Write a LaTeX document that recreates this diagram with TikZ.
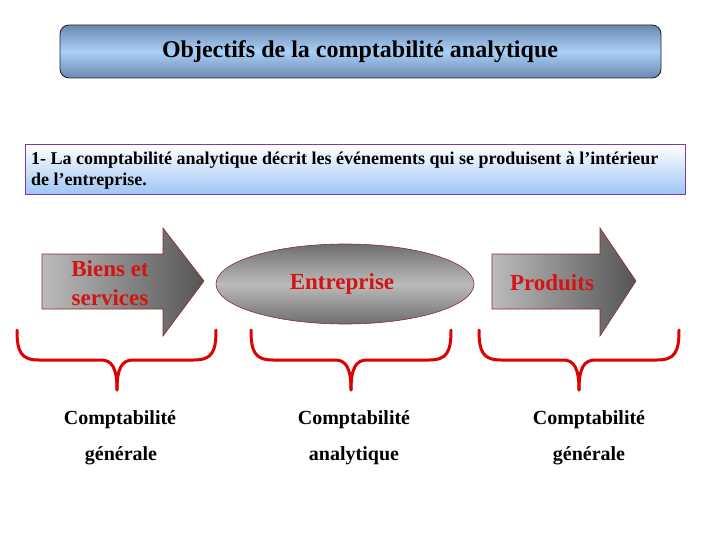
\documentclass[tikz,border=0pt]{standalone}
\usepackage{fontspec}
\setmainfont{Liberation Serif}
\usetikzlibrary{shapes.geometric}
\definecolor{titlemid}{HTML}{A9D0F7}
\definecolor{titleedge}{HTML}{6A88B0}
\definecolor{boxblue}{HTML}{9CC4F4}
\definecolor{boxborder}{HTML}{7A3AB0}
\definecolor{shapeborder}{HTML}{8E2A2A}
\definecolor{labelred}{HTML}{D41414}
\definecolor{bracered}{HTML}{E00000}
\definecolor{lightgrey}{HTML}{BBBBBB}
\definecolor{darkgrey}{HTML}{555555}
\tikzset{
  titlebox/.style={draw=black!85, line width=0.9pt, rounded corners=9pt,
    top color=titleedge, bottom color=titleedge, middle color=titlemid},
  infobox/.style={draw=boxborder, line width=1pt, top color=white, bottom color=boxblue},
  arrowshape/.style={draw=shapeborder, line width=0.6pt, left color=lightgrey, right color=darkgrey},
  ellshape/.style={draw=shapeborder, line width=0.6pt, top color=darkgrey!85, bottom color=darkgrey!85, middle color=lightgrey},
  redlabel/.style={text=labelred, font=\fontsize{23}{29}\selectfont\bfseries, align=center},
  bracestyle/.style={draw=bracered, line width=3pt, line cap=round},
  comptext/.style={font=\fontsize{20}{21}\selectfont\bfseries, anchor=center}
}
\newcommand\mybrace[3]{%
  \draw[bracestyle] (#1,330) .. controls (#1,352) and (#1+4,360) .. (#1+22,360) -- (#3-16,360) .. controls (#3-5,360) and (#3,368) .. (#3,390);
  \draw[bracestyle] (#2,330) .. controls (#2,352) and (#2-4,360) .. (#2-22,360) -- (#3+16,360) .. controls (#3+5,360) and (#3,368) .. (#3,390);
}
\begin{document}
\begin{tikzpicture}[x=1pt,y=-1pt]
\useasboundingbox (0,0) rectangle (720,540);
% title
\path[titlebox] (60,25) rectangle (661,78);
\node[font=\fontsize{24}{26}\selectfont\bfseries] (title) at (360,52) {Objectifs de la comptabilité analytique};
% info box
\path[infobox] (25,145) rectangle (685,195);
\node[anchor=north west, align=left, inner sep=0pt, font=\fontsize{18}{21}\selectfont\bfseries] (info) at (31,152)
  {1- La comptabilité analytique décrit les événements qui se produisent à l’intérieur\\
   de l’entreprise.};
% left arrow
\path[arrowshape] (42,254) -- (163,254) -- (163,228) -- (204,281) -- (163,336) -- (163,309) -- (42,309) -- cycle;
\node[redlabel, inner sep=0pt] (biens) at (110,283) {Biens et\\services};
% ellipse
\path[ellshape] (345,284) ellipse [x radius=129, y radius=40];
\node[redlabel] (entreprise) at (342,284) {Entreprise};
% right arrow
\path[arrowshape] (492,254) -- (600,254) -- (600,228) -- (636,281) -- (600,336) -- (600,309) -- (492,309) -- cycle;
\node[redlabel] (produits) at (552,283) {Produits};
% braces
\mybrace{17}{216}{117}
\mybrace{251}{451}{351}
\mybrace{479}{679}{579}
% bottom texts
\node[comptext] (c1) at (120,420) {Comptabilité};
\node[comptext] (g1) at (121,456) {générale};
\node[comptext] (c2) at (354,420) {Comptabilité};
\node[comptext] (a2) at (354,456) {analytique};
\node[comptext] (c3) at (589,420) {Comptabilité};
\node[comptext] (g3) at (589,456) {générale};
\end{tikzpicture}
\end{document}
